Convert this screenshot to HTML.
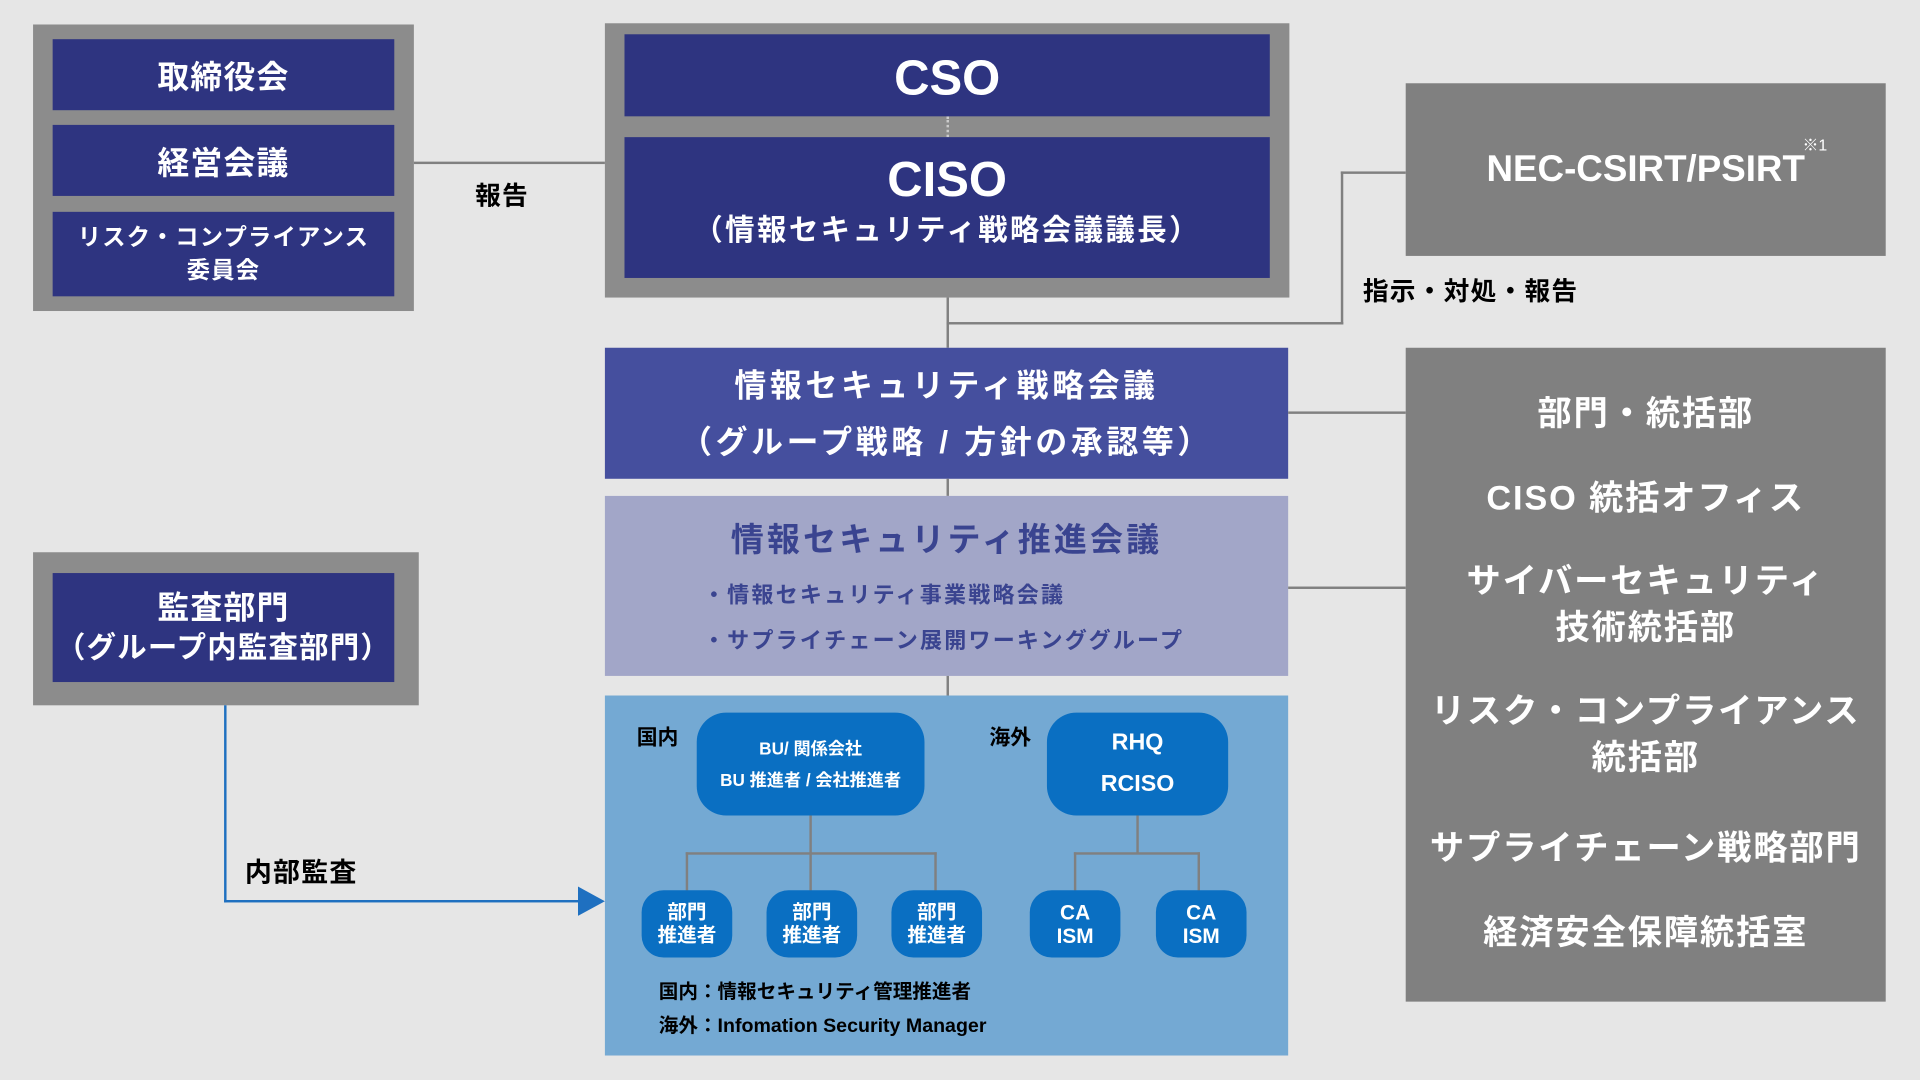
<!DOCTYPE html>
<html><head><meta charset="utf-8"><style>
html,body{margin:0;padding:0;background:#e6e6e6;width:1920px;height:1080px;overflow:hidden}
#s{position:absolute;left:0;top:0;width:1568px;height:879px;transform:scale(1.22449);transform-origin:0 0;font-family:"Liberation Sans","Noto Sans CJK JP",sans-serif;font-weight:bold}
.b{position:absolute;box-sizing:border-box}
.c{display:flex;flex-direction:column;align-items:center;justify-content:center;text-align:center;color:#fff}
.t{position:absolute;white-space:nowrap}
.l{position:absolute;background:#808080}
</style></head><body><div id="s">
<div class="b" style="left:27px;top:20px;width:311px;height:234px;background:#8c8c8c"></div>
<div class="b c" style="left:43px;top:32px;width:279px;height:58px;background:#2e3480;font-size:26px;letter-spacing:1px">取締役会</div>
<div class="b c" style="left:43px;top:102px;width:279px;height:58px;background:#2e3480;font-size:26px;letter-spacing:1px">経営会議</div>
<div class="b c" style="left:43px;top:173px;width:279px;height:69px;background:#2e3480;font-size:19px;line-height:27px;letter-spacing:1px">リスク・コンプライアンス<br>委員会</div>
<div class="l" style="left:338px;top:132px;width:156px;height:2px"></div>
<div class="t" style="left:388px;top:144px;font-size:21px;letter-spacing:1px">報告</div>

<div class="b" style="left:494px;top:19px;width:559px;height:224px;background:#8c8c8c"></div>
<div class="b c" style="left:510px;top:28px;width:527px;height:67px;background:#2e3480;font-size:40px;padding-top:6px">CSO</div>
<div class="b" style="left:773px;top:95px;width:0;height:17px;border-left:2px dotted #ccc"></div>
<div class="b c" style="left:510px;top:112px;width:527px;height:115px;background:#2e3480"><div style="font-size:40px;line-height:44px;margin-top:-6px">CISO</div><div style="font-size:24px;line-height:40px;letter-spacing:2px">（情報セキュリティ戦略会議議長）</div></div>

<div class="l" style="left:773px;top:243px;width:2px;height:41px"></div>
<div class="l" style="left:773px;top:263px;width:324px;height:2px"></div>
<div class="l" style="left:1095px;top:140px;width:2px;height:125px"></div>
<div class="l" style="left:1095px;top:140px;width:53px;height:2px"></div>
<div class="b c" style="left:1148px;top:68px;width:392px;height:141px;background:#808080;font-size:30px">NEC-CSIRT/PSIRT</div>
<div class="t" style="left:1472px;top:108px;font-size:13px;color:#fff;font-weight:normal">※1</div>
<div class="t" style="left:1113px;top:222px;font-size:21px;letter-spacing:1px">指示・対処・報告</div>

<div class="b c" style="left:494px;top:284px;width:558px;height:107px;background:#454f9e;font-size:26px;line-height:46px;letter-spacing:3px">情報セキュリティ戦略会議<br>（グループ戦略 / 方針の承認等）</div>
<div class="l" style="left:773px;top:391px;width:2px;height:14px"></div>
<div class="b" style="left:494px;top:405px;width:558px;height:147px;background:#a2a6c8;color:#3a4490">
<div class="t" style="left:0;width:558px;text-align:center;top:14px;font-size:27px;letter-spacing:2.5px">情報セキュリティ推進会議</div>
<div class="t" style="left:80px;top:67px;font-size:18px;letter-spacing:1.8px">・情報セキュリティ事業戦略会議</div>
<div class="t" style="left:80px;top:104px;font-size:18px;letter-spacing:1.8px">・サプライチェーン展開ワーキンググループ</div></div>
<div class="l" style="left:1052px;top:336px;width:96px;height:2px"></div>
<div class="l" style="left:1052px;top:479px;width:96px;height:2px"></div>
<div class="l" style="left:773px;top:552px;width:2px;height:16px"></div>

<div class="b" style="left:1148px;top:284px;width:392px;height:534px;background:#808080;color:#fff;font-size:28px;text-align:center;letter-spacing:1.5px">
<div class="t" style="left:0;width:392px;top:32px">部門・統括部</div>
<div class="t" style="left:0;width:392px;top:101px">CISO 統括オフィス</div>
<div class="t" style="left:0;width:392px;top:172px;line-height:38px">サイバーセキュリティ<br>技術統括部</div>
<div class="t" style="left:0;width:392px;top:278px;line-height:38px">リスク・コンプライアンス<br>統括部</div>
<div class="t" style="left:0;width:392px;top:387px">サプライチェーン戦略部門</div>
<div class="t" style="left:0;width:392px;top:456px">経済安全保障統括室</div></div>

<div class="b" style="left:27px;top:451px;width:315px;height:125px;background:#8c8c8c"></div>
<div class="b c" style="left:43px;top:468px;width:279px;height:89px;background:#2e3480;font-size:26px;line-height:34px;letter-spacing:1px">監査部門<br><span style="font-size:24px">（グループ内監査部門）</span></div>
<div class="b" style="left:183px;top:576px;width:2px;height:161px;background:#1f70c0"></div>
<div class="b" style="left:183px;top:735px;width:293px;height:2px;background:#1f70c0"></div>
<svg class="b" style="left:472px;top:724px" width="24" height="24"><polygon points="0,0 22,12 0,24" fill="#1f70c0"/></svg>
<div class="t" style="left:200px;top:695px;font-size:22px;letter-spacing:1px">内部監査</div>

<div class="b" style="left:494px;top:568px;width:558px;height:294px;background:#74a9d3"></div>
<div class="t" style="left:520px;top:588px;font-size:17px">国内</div>
<div class="t" style="left:808px;top:588px;font-size:17px">海外</div>
<div class="b c" style="left:569px;top:582px;width:186px;height:84px;background:#0a6fc2;border-radius:24px;font-size:14px;line-height:26px">BU/ 関係会社<br>BU 推進者 / 会社推進者</div>
<div class="b c" style="left:855px;top:582px;width:148px;height:84px;background:#0a6fc2;border-radius:24px;font-size:19px;line-height:34px">RHQ<br>RCISO</div>
<div class="l" style="left:661px;top:666px;width:2px;height:31px"></div>
<div class="l" style="left:560px;top:696px;width:205px;height:2px"></div>
<div class="l" style="left:560px;top:696px;width:2px;height:32px"></div>
<div class="l" style="left:661px;top:696px;width:2px;height:32px"></div>
<div class="l" style="left:763px;top:696px;width:2px;height:32px"></div>
<div class="l" style="left:928px;top:666px;width:2px;height:31px"></div>
<div class="l" style="left:877px;top:696px;width:103px;height:2px"></div>
<div class="l" style="left:877px;top:696px;width:2px;height:32px"></div>
<div class="l" style="left:978px;top:696px;width:2px;height:32px"></div>
<div class="b c" style="left:524px;top:727px;width:74px;height:55px;background:#0a6fc2;border-radius:18px;font-size:16px;line-height:19px">部門<br>推進者</div>
<div class="b c" style="left:626px;top:727px;width:74px;height:55px;background:#0a6fc2;border-radius:18px;font-size:16px;line-height:19px">部門<br>推進者</div>
<div class="b c" style="left:728px;top:727px;width:74px;height:55px;background:#0a6fc2;border-radius:18px;font-size:16px;line-height:19px">部門<br>推進者</div>
<div class="b c" style="left:841px;top:727px;width:74px;height:55px;background:#0a6fc2;border-radius:18px;font-size:17px;line-height:19px">CA<br>ISM</div>
<div class="b c" style="left:944px;top:727px;width:74px;height:55px;background:#0a6fc2;border-radius:18px;font-size:17px;line-height:19px">CA<br>ISM</div>
<div class="t" style="left:538px;top:796px;font-size:16px">国内：情報セキュリティ管理推進者</div>
<div class="t" style="left:538px;top:824px;font-size:16px">海外：Infomation Security Manager</div>
</div></body></html>
